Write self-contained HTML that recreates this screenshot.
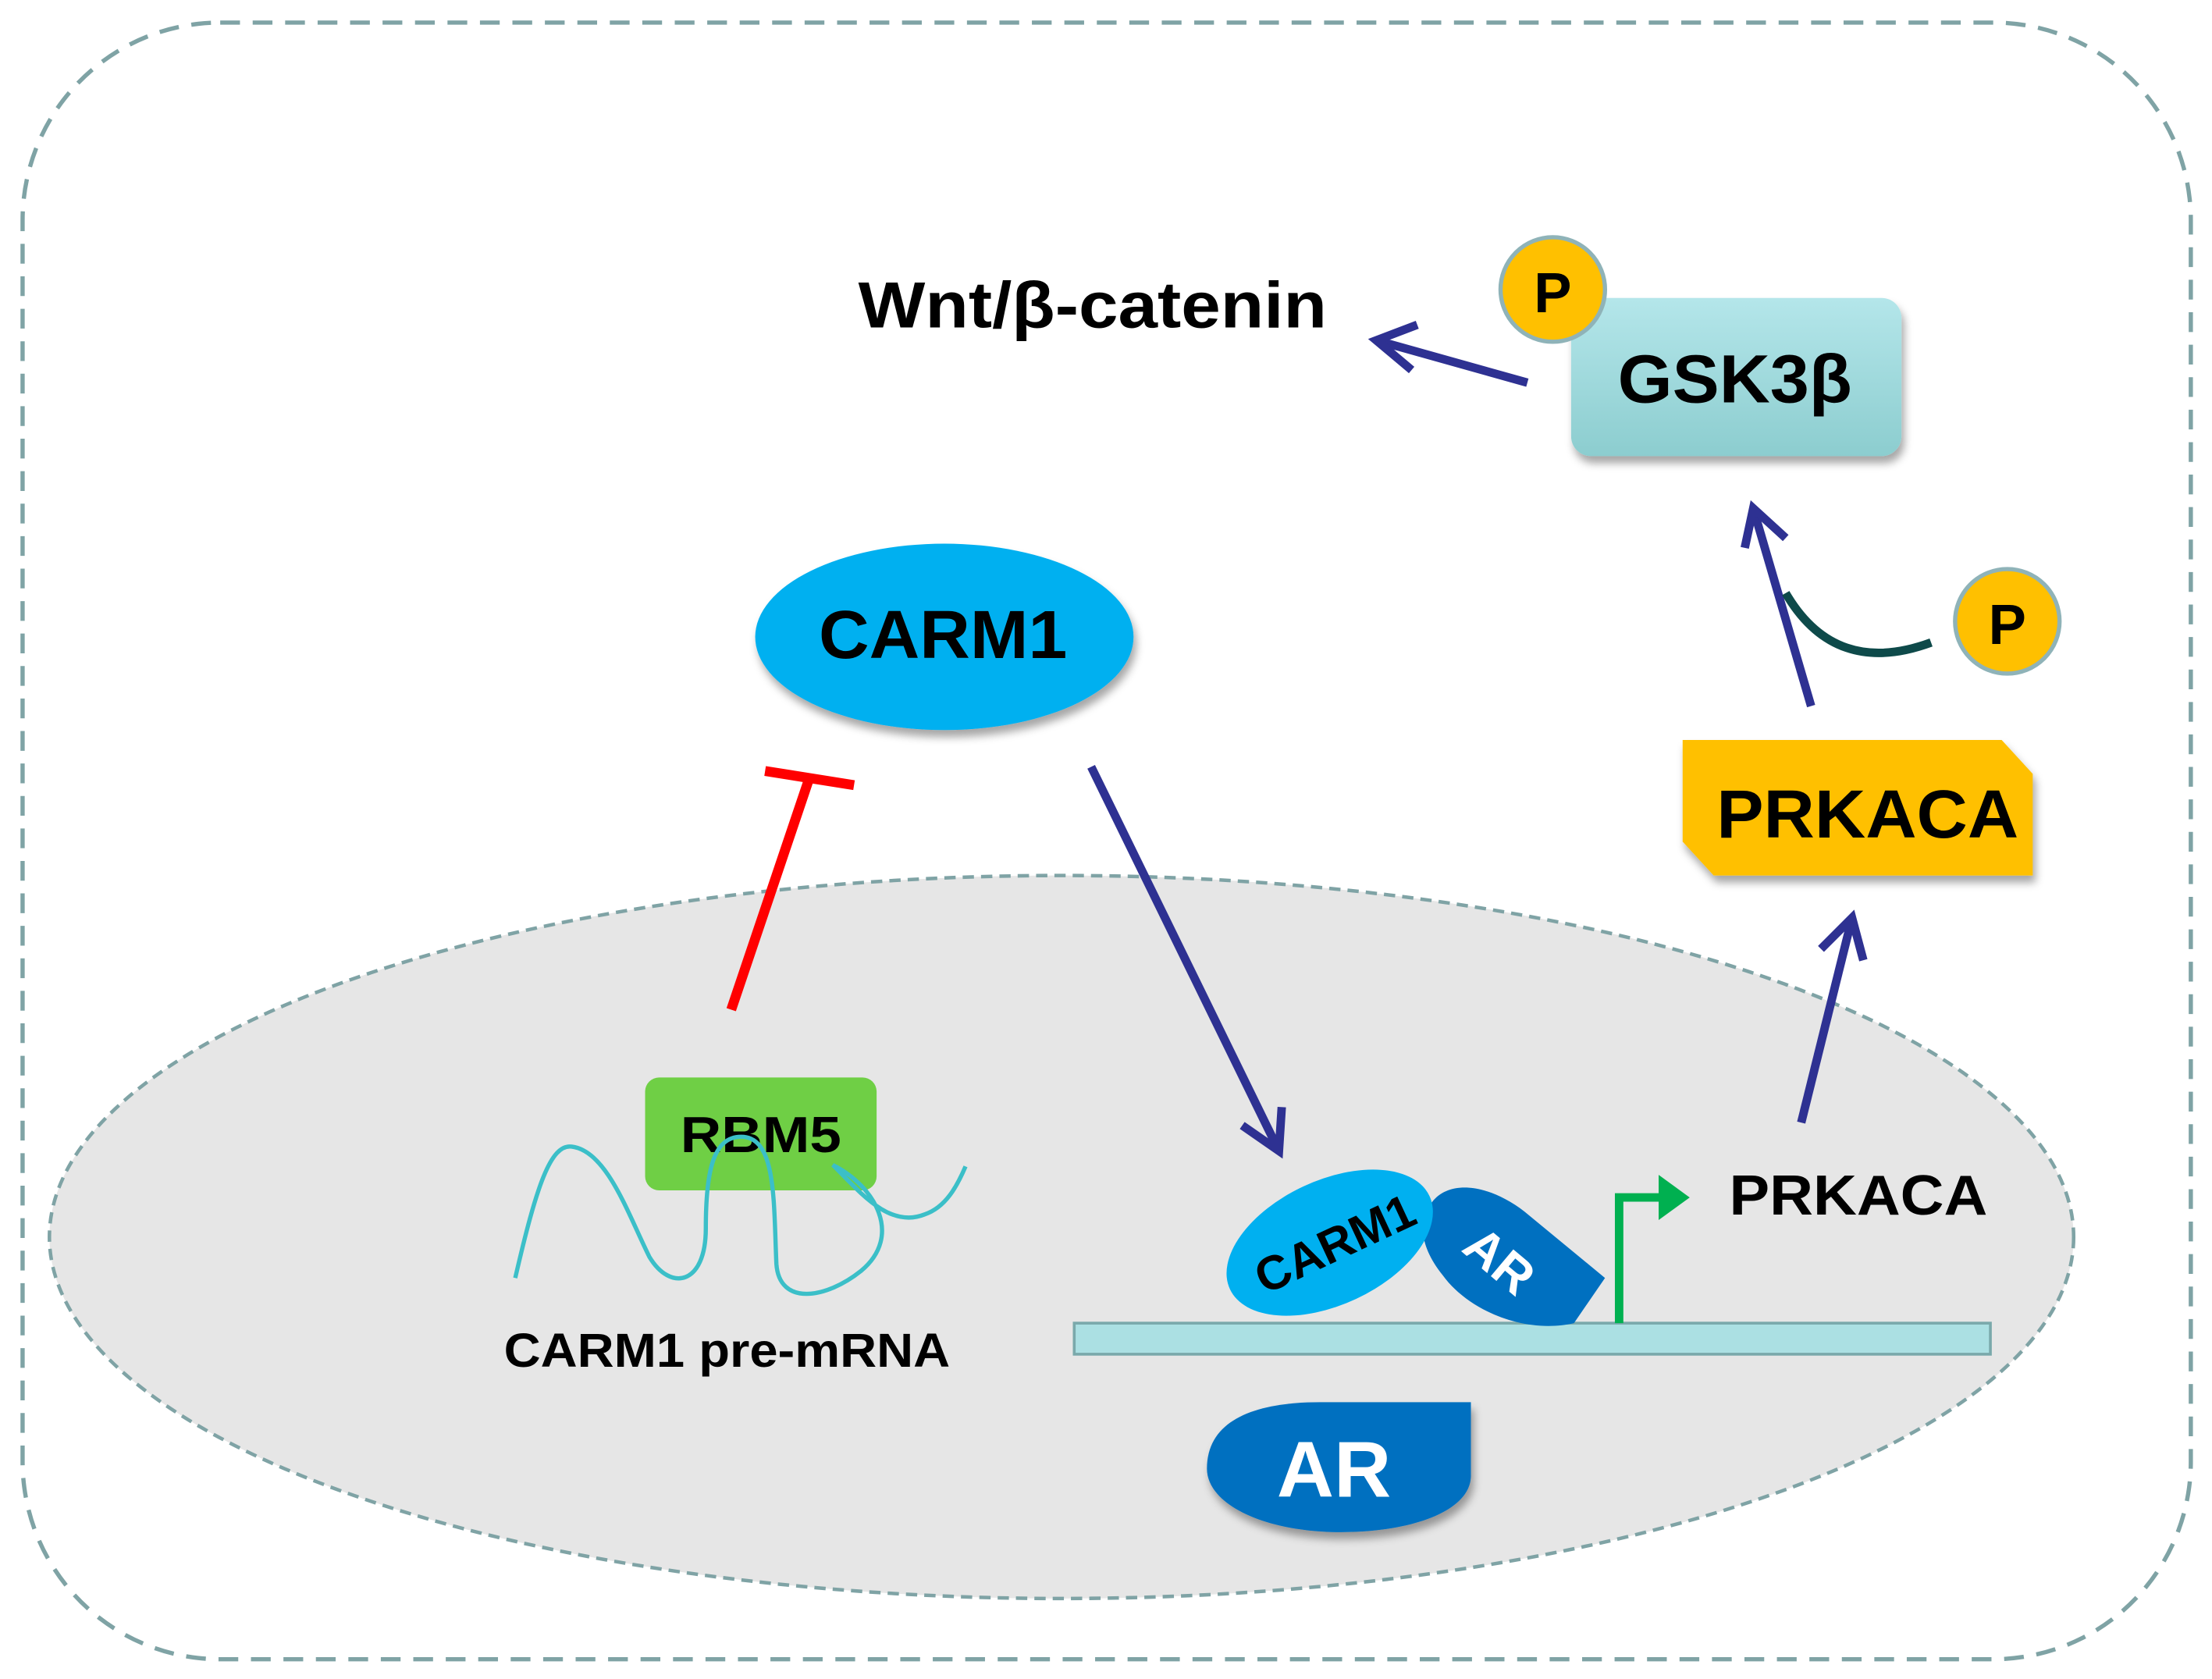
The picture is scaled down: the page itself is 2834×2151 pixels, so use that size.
<!DOCTYPE html>
<html><head><meta charset="utf-8"><style>html,body{margin:0;padding:0;background:#fff}svg{display:block}text{font-family:"Liberation Sans",sans-serif;font-weight:bold}</style></head>
<body>
<svg width="2834" height="2151" viewBox="0 0 1567 1189" preserveAspectRatio="none" xmlns="http://www.w3.org/2000/svg">
<defs>
<linearGradient id="g1" x1="0" y1="0" x2="0" y2="1"><stop offset="0" stop-color="#b4e6ea"/><stop offset="1" stop-color="#8ccdcf"/></linearGradient>
<filter id="sh" x="-20%" y="-20%" width="140%" height="150%"><feDropShadow dx="2" dy="5" stdDeviation="3" flood-color="#000" flood-opacity="0.35"/></filter>
</defs>
<rect x="16" y="16" width="1536" height="1159" rx="140" fill="#fff" stroke="#7fa3a5" stroke-width="3" stroke-dasharray="14 9"/>
<ellipse cx="752" cy="876" rx="717" ry="256" fill="#e6e6e6" stroke="#7fa3a5" stroke-width="2.5" stroke-dasharray="8 5"/>
<text x="608" y="232" font-size="46" textLength="332" lengthAdjust="spacingAndGlyphs">Wnt/β-catenin</text>
<g stroke="#2e3192" stroke-width="6" fill="none">
<line x1="1082" y1="271" x2="975" y2="241"/><polyline points="1000,262 975,241 1004,230"/>
<line x1="1283" y1="500" x2="1242" y2="360"/><polyline points="1236,388 1242,360 1265,381"/>
<line x1="1276" y1="795" x2="1312" y2="650"/><polyline points="1290,672 1312,650 1320,680"/>
<line x1="773" y1="543" x2="906" y2="815"/><polyline points="880,797 906,815 908,784"/>
</g>
<rect x="1113" y="211" width="234" height="112" rx="14" fill="url(#g1)" filter="url(#sh)"/>
<text x="1146" y="285" font-size="48" textLength="166" lengthAdjust="spacingAndGlyphs">GSK3β</text>
<circle cx="1100" cy="205" r="37" fill="#ffc000" stroke="#8fb3b8" stroke-width="3"/>
<text x="1100" y="221" font-size="40" text-anchor="middle">P</text>
<path d="M1265,420 Q1300,480 1368,455" stroke="#0e4a4a" stroke-width="6" fill="none"/>
<circle cx="1422" cy="440" r="37" fill="#ffc000" stroke="#8fb3b8" stroke-width="3"/>
<text x="1422" y="456" font-size="40" text-anchor="middle">P</text>
<polygon points="1192,524 1418,524 1440,548 1440,620 1214,620 1192,596" fill="#ffc000" filter="url(#sh)"/>
<text x="1216" y="593" font-size="48" textLength="214" lengthAdjust="spacingAndGlyphs">PRKACA</text>
<ellipse cx="669" cy="451" rx="134" ry="66" fill="#00b0f0" filter="url(#sh)"/>
<text x="580" y="466" font-size="48" textLength="176" lengthAdjust="spacingAndGlyphs">CARM1</text>
<g stroke="#ff0000" stroke-width="7"><line x1="518" y1="715" x2="573" y2="552"/><line x1="542" y1="546" x2="605" y2="556"/></g>
<rect x="457" y="763" width="164" height="80" rx="10" fill="#6fcf45"/>
<text x="482" y="816" font-size="36" textLength="114" lengthAdjust="spacingAndGlyphs">RBM5</text>
<path d="M365,905 C380,840 390,810 405,812 C430,815 445,860 460,890 C475,915 500,910 500,870 C500,830 505,805 525,805 C550,805 548,850 550,895 C552,925 585,920 610,900 C640,875 620,840 590,825 C610,845 630,870 655,860 C670,855 678,840 684,826" stroke="#3bbfc8" stroke-width="3" fill="none"/>
<text x="357" y="968" font-size="34" textLength="316" lengthAdjust="spacingAndGlyphs">CARM1 pre-mRNA</text>
<rect x="761" y="937" width="649" height="22" fill="#abe0e3" stroke="#7aa9ab" stroke-width="2"/>
<path d="M1010,860 C1018,835 1050,835 1080,858 L1137,905 L1115,937 C1080,945 1040,928 1022,903 C1010,888 1005,873 1010,860z" fill="#0070c0"/>
<text x="1062" y="905" font-size="36" fill="#fff" text-anchor="middle" transform="rotate(40 1062 893)">AR</text>
<g transform="rotate(-25 942 880)"><ellipse cx="942" cy="880" rx="78" ry="44" fill="#00b0f0"/><text x="945" y="894" font-size="34" text-anchor="middle" fill="#000">CARM1</text></g>
<polyline points="1147,937 1147,848 1180,848" stroke="#00b050" stroke-width="6" fill="none"/>
<polygon points="1175,832 1197,848 1175,864" fill="#00b050"/>
<text x="1225" y="860" font-size="40" textLength="183" lengthAdjust="spacingAndGlyphs">PRKACA</text>
<path d="M855,1040 C855,1005 890,993 935,993 L1042,993 L1042,1045 C1042,1070 1000,1085 950,1085 C895,1085 855,1065 855,1040z" fill="#0070c0" filter="url(#sh)"/>
<text x="945" y="1060" font-size="56" fill="#fff" text-anchor="middle">AR</text>
</svg>
</body></html>
